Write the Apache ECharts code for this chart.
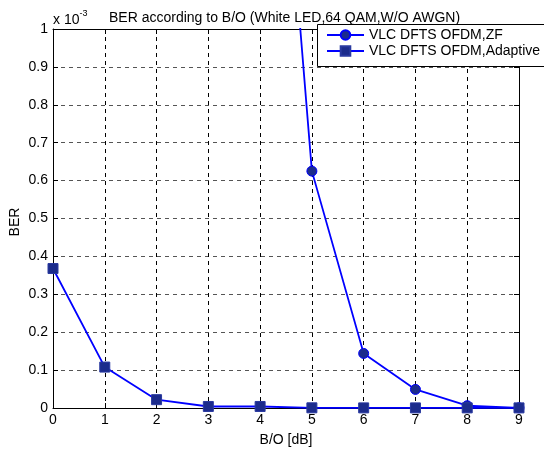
<!DOCTYPE html>
<html>
<head>
<meta charset="utf-8">
<script src="https://cdn.jsdelivr.net/npm/echarts@6/dist/echarts.min.js"></script>
<style>
html,body{margin:0;padding:0;background:#fff;}
#chart{width:544px;height:449px;}
</style>
</head>
<body>
<div id="chart"></div>
<script>
// Data (BER values in units of 1e-3)
const boDb = [0, 1, 2, 3, 4, 5, 6, 7, 8, 9];
const berZF = [null, null, null, null, 2.3, 0.625, 0.144, 0.049, 0.006, 0.0005];
const berAdaptive = [0.368, 0.108, 0.022, 0.004, 0.004, 0.0005, 0.0003, 0.0003, 0.0003, 0.0003];
const seriesNames = ['VLC DFTS OFDM,ZF', 'VLC DFTS OFDM,Adaptive'];
const titleText = 'BER according to B/O (White LED,64 QAM,W/O AWGN)';
const xName = 'B/O [dB]';
const yName = 'BER';

const FONT = "'Liberation Sans', Arial, sans-serif";
const pairs = (xs, ys) => xs.map((x, i) => [x, ys[i]]);

const chart = echarts.init(document.getElementById('chart'), null, {renderer: 'canvas'});
const boxAxisX = {
  type: 'value', min: 0, max: 9, interval: 1,
  axisLine: {show: true, onZero: false, lineStyle: {color: '#000', width: 1}},
  axisTick: {show: true, inside: true, length: 5, lineStyle: {color: '#000'}},
  axisLabel: {show: false}, splitLine: {show: false}
};
const boxAxisY = {
  type: 'value', min: 0, max: 1, interval: 0.1,
  axisLine: {show: true, onZero: false, lineStyle: {color: '#000', width: 1}},
  axisTick: {show: true, inside: true, length: 5, lineStyle: {color: '#000'}},
  axisLabel: {show: false}, splitLine: {show: false}
};
chart.setOption({
  animation: false,
  textStyle: {fontFamily: FONT},
  title: {
    text: titleText, left: 104, top: 6,
    textStyle: {fontSize: 14, fontWeight: 'normal', color: '#000', fontFamily: FONT}
  },
  graphic: [{
    type: 'text', left: 53, top: 9,
    style: {
      text: '{a|x 10}{b|-3}',
      rich: {
        a: {fontSize: 14, fill: '#000', fontFamily: FONT, verticalAlign: 'bottom', lineHeight: 18},
        b: {fontSize: 9, fill: '#000', fontFamily: FONT, verticalAlign: 'top', lineHeight: 10, padding: [0,0,8,0]}
      }
    }
  }, {
    type: 'text', x: 15, y: 222, rotation: Math.PI / 2,
    style: {text: yName, fontSize: 14, fill: '#000', fontFamily: FONT, align: 'center', verticalAlign: 'middle'}
  }, {
    type: 'rect', z: 5,
    shape: {x: 317.5, y: 24.5, width: 260, height: 42},
    style: {fill: '#fff', stroke: '#000', lineWidth: 1}
  }],
  legend: {
    orient: 'vertical', left: 317, top: 25, z: 10,
    padding: [3, 5, 5, 9], itemGap: 2,
    itemWidth: 37, itemHeight: 12,
    backgroundColor: 'transparent', borderWidth: 0,
    textStyle: {fontSize: 14, color: '#000', fontFamily: FONT},
    data: seriesNames
  },
  grid: {left: 53, right: 25, top: 29, bottom: 41, containLabel: false, outerBoundsMode: 'none'},
  xAxis: [{
    type: 'value', min: 0, max: 9, interval: 1, position: 'bottom',
    name: xName, nameLocation: 'middle', nameGap: 25,
    nameTextStyle: {fontSize: 14, color: '#000', fontFamily: FONT},
    axisLine: {show: true, onZero: false, lineStyle: {color: '#000', width: 1}},
    axisTick: {show: true, inside: true, length: 5, lineStyle: {color: '#000'}},
    axisLabel: {fontSize: 14, color: '#000', margin: 5, fontFamily: FONT},
    splitLine: {show: true, lineStyle: {color: '#000', type: [4, 4], width: 1}}
  }, Object.assign({position: 'top'}, boxAxisX)],
  yAxis: [{
    type: 'value', min: 0, max: 1, interval: 0.1, position: 'left',
    axisLine: {show: true, onZero: false, lineStyle: {color: '#000', width: 1}},
    axisTick: {show: true, inside: true, length: 5, lineStyle: {color: '#000'}},
    axisLabel: {fontSize: 14, color: '#000', margin: 5, fontFamily: FONT},
    splitLine: {show: true, lineStyle: {color: '#555', type: [4, 4], width: 1}}
  }, Object.assign({position: 'right'}, boxAxisY)],
  series: [{
    name: seriesNames[0], type: 'line', xAxisIndex: 0, yAxisIndex: 0,
    data: pairs(boDb, berZF), clip: true,
    symbol: 'circle', symbolSize: 10, showAllSymbol: true,
    lineStyle: {color: '#0000ff', width: 1.8},
    itemStyle: {color: '#1c2c8c', borderColor: '#0000ff', borderWidth: 1}
  }, {
    name: seriesNames[1], type: 'line', xAxisIndex: 0, yAxisIndex: 0,
    data: pairs(boDb, berAdaptive), clip: true,
    symbol: 'rect', symbolSize: 10, showAllSymbol: true,
    lineStyle: {color: '#0000ff', width: 1.8},
    itemStyle: {color: '#1c2c8c', borderColor: '#2a3aa0', borderWidth: 1}
  }]
});
</script>
</body>
</html>
